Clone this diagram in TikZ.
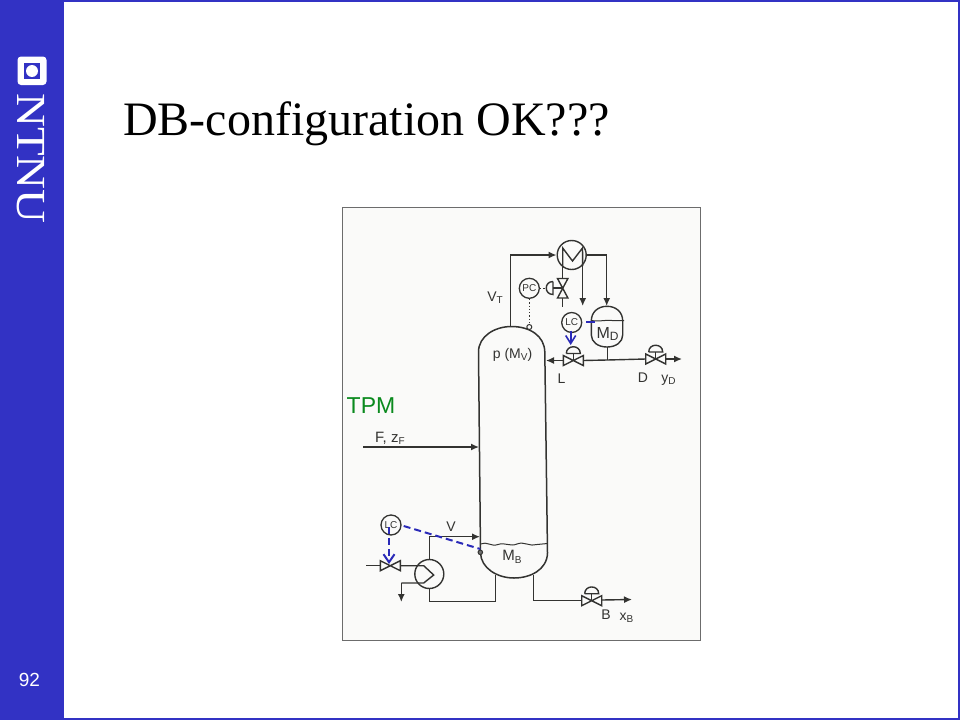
\documentclass[tikz,border=0pt]{standalone}
\usepackage{fontspec}
\setmainfont{Liberation Sans}
\newfontfamily\serifface{Liberation Serif}
\usetikzlibrary{arrows.meta,calc}
\definecolor{barblue}{HTML}{3232C4}
\definecolor{scanink}{HTML}{333331}
\definecolor{scanbg}{HTML}{FAFAF9}
\definecolor{ctlblue}{HTML}{2A2AB8}
\definecolor{tpmgreen}{HTML}{0A8A1E}
\tikzset{
  pipe/.style={draw=scanink,line width=1.4pt},
  flow/.style={pipe,-{Latex[length=8pt,width=7pt]}},
  inst/.style={circle,draw=scanink,line width=1.3pt,minimum size=20pt,inner sep=0pt,font=\fontsize{10}{10}\selectfont,text=scanink,fill=scanbg},
  hx/.style={circle,draw=scanink,line width=1.4pt,minimum size=29pt,inner sep=0pt},
  lbl/.style={text=scanink,inner sep=0pt,font=\fontsize{14}{14}\selectfont},
  sig/.style={draw=scanink,line width=1.3pt,dotted},
  ctl/.style={draw=ctlblue,line width=2pt,dash pattern=on 7pt off 4pt},
  ctlsolid/.style={draw=ctlblue,line width=1.6pt},
  tap/.style={circle,draw=scanink,line width=1pt,minimum size=5pt,inner sep=0pt,fill=scanbg},
}
\newcommand{\valvebody}[2]{%
  \draw[pipe,line join=miter] (#1-10,#2-5) -- (#1+10,#2+5) -- (#1+10,#2-5) -- (#1-10,#2+5) -- cycle;}
\newcommand{\valveact}[2]{%
  \valvebody{#1}{#2}
  \draw[pipe] (#1,#2) -- (#1,#2-7);
  \draw[pipe] (#1-7,#2-7) -- (#1+7,#2-7) .. controls (#1+7,#2-16) and (#1-7,#2-16) .. (#1-7,#2-7);}
\begin{document}
\begin{tikzpicture}[x=1pt,y=-1pt]
\useasboundingbox (0,0) rectangle (960,720);
\fill[white] (0,0) rectangle (960,720);
\draw[barblue,line width=1.5pt] (0,.8) -- (959,.8) -- (959,718.8) -- (0,718.8);
\fill[barblue] (0,0) rectangle (64,720);
% logo
\fill[white,rounded corners=3.5pt] (17.5,56.5) rectangle (46.5,85);
\fill[barblue] (24,63) rectangle (40,79);
\fill[white] (32,71) circle (6pt);
\node[text=white,font=\serifface\fontsize{47}{47}\selectfont,rotate=-90,inner sep=0pt,xscale=1,yscale=.88] (brand) at (31,158.5) {NTNU};
\node[text=white,font=\fontsize{19}{19}\selectfont,inner sep=0pt] (pageno) at (29.5,680) {92};
\node[anchor=base west,inner sep=0pt,font=\serifface\fontsize{48}{48}\selectfont,text=black] (title) at (123,135) {DB-configuration OK???};
% scanned figure
\draw[draw=gray!85!black,fill=scanbg,line width=.8pt] (342.5,207.5) rectangle (700.5,640);

% column
\draw[pipe,line width=1.5pt] (480.5,553) -- (478.5,352)
  .. controls (478.5,336) and (495,326.5) .. (511.5,326.5)
  .. controls (530,326.5) and (544.5,336) .. (544.8,352)
  -- (547.5,553)
  .. controls (547,570) and (530,578) .. (514,578)
  .. controls (497,578) and (481,568) .. (480.5,553);
\draw[pipe,line width=1pt] (480.5,544) .. controls (487,541) and (491,547) .. (498,544.5)
  .. controls (505,542) and (510,547) .. (517,544)
  .. controls (524,541) and (530,547) .. (537,544.5) -- (547.5,543.5);

% named points
\coordinate (topnozzle) at (510.7,326.5);
\coordinate (topbend) at (510.7,255);
\coordinate (condR) at (606.7,255);
\coordinate (refluxin) at (546,360.5);
\coordinate (lvleft) at (563.3,360.5);
\coordinate (lvright) at (583.3,360.5);
\coordinate (dvleft) at (645.7,359);
\coordinate (dvright) at (665.7,359);
\coordinate (dout) at (682,359);
\coordinate (junction) at (607.3,360);

% condenser
\node[hx] (cond) at (571.7,255) {};
\draw[pipe] (562.7,266) -- (562.7,248) -- (572.5,261) -- (582.5,248) -- (582.7,266);
\draw[flow] (topnozzle) -- (topbend) -- (cond.west);
\draw[flow] (cond.east) -- (condR) -- (606.7,306);
\draw[flow] (582.7,266) -- (582.7,306);
\draw[pipe] (562.7,266) -- (562.7,307);
% pressure valve (vertical)
\draw[pipe,fill=scanbg] (557.5,278.5) -- (567.9,278.5) -- (557.5,298) -- (567.9,298) -- cycle;
\draw[pipe] (562.7,288) -- (553,288);
\draw[pipe] (553,281.5) -- (553,294.5) .. controls (544,294.5) and (544,281.5) .. (553,281.5);
\node[inst] (pc) at (529.3,288.3) {PC};
\node[tap] (ptap) at (529.3,327) {};
\draw[sig] (pc) -- (546,288.3);
\draw[sig] (pc) -- (ptap);

% reflux drum
\node[lbl,font=\fontsize{16}{16}\selectfont] (md) at (607.5,334) {M\raisebox{-2.5pt}{\fontsize{12}{12}\selectfont D}};
\draw[pipe] (591.3,321) .. controls (591.3,312) and (598,306.3) .. (607,306.3)
  .. controls (616,306.3) and (622.7,312) .. (622.7,321)
  -- (622.7,335) .. controls (622.7,342) and (616,347) .. (607,347)
  .. controls (598,347) and (591.3,342) .. (591.3,335) -- cycle;
\draw[pipe,line width=1pt] (591.3,320.5) .. controls (600,322) and (606,319.5) .. (612,320.5) -- (624,320.5);
\node[inst] (lcd) at (571.7,322.5) {LC};
\draw[ctlsolid] (586,321.7) -- (595,321.7);
\draw[ctlsolid,-{Straight Barb[length=8pt,width=10pt]}] (570.7,330.5) -- (570.7,345);

% distillate line & valves
\valveact{573.3}{360.5}
\valveact{655.7}{359}
\draw[flow] (lvleft) -- (refluxin);
\draw[pipe] (lvright) -- (junction) -- (dvleft);
\draw[pipe] (607.3,347) -- (junction);
\draw[flow] (dvright) -- (dout);

% feed
\coordinate (feedstart) at (363,447);
\coordinate (feedend) at (479,447);
\draw[flow] (feedstart) -- (feedend);

% reboiler
\node[hx] (reb) at (429.3,574) {};
\coordinate (vaporbend) at (429.3,536.7);
\coordinate (vaporin) at (480,536.7);
\draw[flow] (reb.north) -- (vaporbend) -- (vaporin);
\coordinate (botL) at (495.7,575);
\coordinate (botLb) at (495.7,601.5);
\coordinate (botLc) at (429.3,601.5);
\draw[pipe] (botL) -- (botLb) -- (botLc) -- (reb.south);
\draw[pipe] (400.5,565.7) -- (423.7,565.7) -- (433.7,575) -- (423.7,583) -- (401.3,583);
\draw[flow] (401.3,583) -- (401.3,602);
\draw[pipe] (366.3,565.7) -- (380.3,565.7);
\valvebody{390.3}{565.7}

% bottoms
\coordinate (botR) at (533.3,575);
\coordinate (botRb) at (533.3,600.7);
\coordinate (bvleft) at (581.7,600.7);
\coordinate (bvright) at (601.7,600);
\coordinate (bout) at (632,599.5);
\draw[pipe] (botR) -- (botRb) -- (bvleft);
\valveact{591.7}{600.7}
\draw[flow] (bvright) -- (bout);

% bottom level control
\node[inst] (lcb) at (391,525) {LC};
\node[tap,minimum size=4.5pt,fill=scanink!70] (btap) at (480.3,552.3) {};
\draw[ctl] (403.7,526) -- (480.3,549);
\draw[ctl,-{Straight Barb[length=8pt,width=11pt]}] (389,527) -- (389,564);

% labels
\node[lbl] (vt) at (495,298) {V\raisebox{-2pt}{\fontsize{10}{10}\selectfont T}};
\node[lbl] (pmv) at (512.5,355) {p (M\raisebox{-2pt}{\fontsize{10}{10}\selectfont V})};
\node[lbl] (l) at (561.5,378.5) {L};
\node[lbl] (d) at (643,377.5) {D};
\node[lbl] (yd) at (668.5,380) {y\raisebox{-2pt}{\fontsize{10}{10}\selectfont D}};
\node[lbl,anchor=west,font=\fontsize{15}{15}\selectfont] (f) at (375,438.5) {F, z\raisebox{-2pt}{\fontsize{10}{10}\selectfont F}};
\node[lbl] (v) at (451,527) {V};
\node[lbl,font=\fontsize{15}{15}\selectfont] (mb) at (512,557) {M\raisebox{-2.5pt}{\fontsize{10}{10}\selectfont B}};
\node[lbl] (b) at (606,615) {B};
\node[lbl] (xb) at (626.5,617.5) {x\raisebox{-2pt}{\fontsize{10}{10}\selectfont B}};
\node[anchor=west,inner sep=0pt,text=tpmgreen,font=\fontsize{23}{23}\selectfont] (tpm) at (346.5,406) {TPM};
\end{tikzpicture}
\end{document}
